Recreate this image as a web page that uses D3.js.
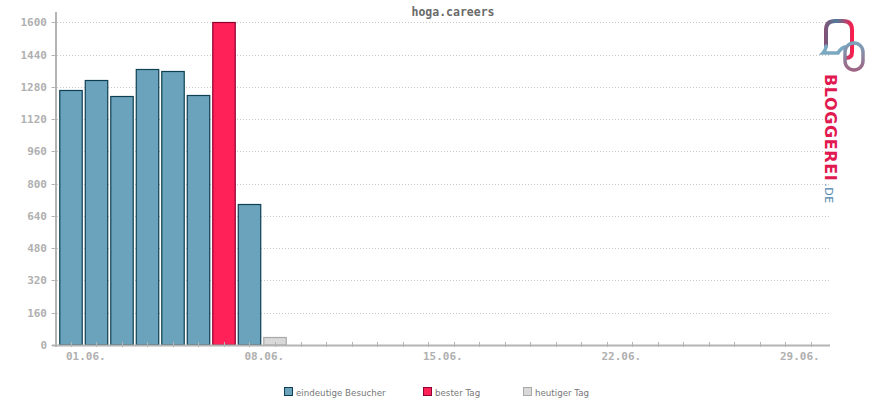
<!DOCTYPE html>
<html><head><meta charset="utf-8">
<script src="https://cdn.jsdelivr.net/npm/d3@7"></script>
<style>html,body{margin:0;padding:0;background:#fff;}svg{display:block;}</style>
</head><body>
<script>
const title = "hoga.careers";
const days = d3.range(1, 31).map(d => String(d).padStart(2, "0") + ".06.");
const visitors = [1263, 1316, 1237, 1370, 1360, 1241, 1600, 697, 38];
const kinds = ["v","v","v","v","v","v","best","v","today"];
const yTicks = [0,160,320,480,640,800,960,1120,1280,1440,1600];
const xLabels = ["01.06.","08.06.","15.06.","22.06.","29.06."];
const legendNames = ["eindeutige Besucher","bester Tag","heutiger Tag"];
const legendKinds = ["v","best","today"];

const fills = {v:"#6aa3bb", best:"#ff2157", today:"#d9d9d9"};
const strokes = {v:"#0f3f52", best:"#8f0030", today:"#a9a9a9"};

const W = 870, H = 400;
const svg = d3.select("body").append("svg").attr("width", W).attr("height", H);
const mono = "'DejaVu Sans Mono', monospace";

const x = d3.scaleBand().domain(days).range([58.25, 823.25]).paddingInner(0.08).paddingOuter(0.04);
const y = d3.scaleLinear().domain([0, 1600]).range([345, 22.3]);

// grid
svg.append("g").selectAll("line").data(yTicks.filter(d => d > 0)).join("line")
  .attr("x1", 57).attr("x2", 829).attr("y1", d => Math.round(y(d)) + 0.5).attr("y2", d => Math.round(y(d)) + 0.5)
  .attr("stroke", "#c8c8c8").attr("stroke-width", 1).attr("stroke-dasharray", "1,2");

// bars
svg.append("g").selectAll("rect").data(visitors).join("rect")
  .attr("x", (d, i) => x(days[i]) + 0.5)
  .attr("width", x.bandwidth() - 1)
  .attr("y", d => Math.round(y(d)) + 0.5)
  .attr("height", d => 345 - Math.round(y(d)) - 0.5)
  .attr("fill", (d, i) => fills[kinds[i]])
  .attr("stroke", (d, i) => strokes[kinds[i]])
  .attr("stroke-width", 1.2);

// y axis
const yAxis = svg.append("g");
yAxis.append("line").attr("x1", 56).attr("x2", 56).attr("y1", 12).attr("y2", 347)
  .attr("stroke", "#b4b4b4").attr("stroke-width", 2);
yAxis.selectAll("line.t").data(yTicks).join("line").attr("class", "t")
  .attr("x1", 51.5).attr("x2", 56).attr("y1", d => Math.round(y(d)) + 0.5).attr("y2", d => Math.round(y(d)) + 0.5)
  .attr("stroke", "#b4b4b4").attr("stroke-width", 1);
yAxis.selectAll("text").data(yTicks).join("text")
  .attr("x", 47).attr("y", d => y(d) + 4)
  .attr("text-anchor", "end").attr("font-family", mono).attr("font-size", 11)
  .attr("font-weight", "bold").attr("fill", "#b0b0b0").text(d => d);

// x axis
const xAxis = svg.append("g");
xAxis.append("line").attr("x1", 52).attr("x2", 830).attr("y1", 345.5).attr("y2", 345.5)
  .attr("stroke", "#b4b4b4").attr("stroke-width", 2);
xAxis.selectAll("line.t").data(days).join("line").attr("class", "t")
  .attr("x1", d => Math.round(x(d) + x.bandwidth() / 2) + 0.5)
  .attr("x2", d => Math.round(x(d) + x.bandwidth() / 2) + 0.5)
  .attr("y1", 342).attr("y2", 347)
  .attr("stroke", "#b4b4b4").attr("stroke-width", 1);
xAxis.selectAll("text").data(xLabels).join("text")
  .attr("x", d => x(d) + x.bandwidth() / 2 - 5).attr("y", 360)
  .attr("font-family", mono).attr("font-size", 11).attr("font-weight", "bold")
  .attr("fill", "#b0b0b0").text(d => d);

// title
svg.append("text").attr("x", 453).attr("y", 16).attr("text-anchor", "middle")
  .attr("font-family", mono).attr("font-size", 11.5).attr("font-weight", "bold")
  .attr("fill", "#6a6a6a").text(title);

// legend
const legX = [284, 423, 523];
const leg = svg.append("g").selectAll("g").data(legendNames).join("g")
  .attr("transform", (d, i) => `translate(${legX[i]},387)`);
leg.append("rect").attr("x", 0.5).attr("y", 0.5).attr("width", 8).attr("height", 8)
  .attr("fill", (d, i) => fills[legendKinds[i]]).attr("stroke", (d, i) => strokes[legendKinds[i]]);
leg.append("text").attr("x", 12).attr("y", 8.5).attr("font-family", "'DejaVu Sans', sans-serif")
  .attr("font-size", 8.7).attr("fill", "#777").text(d => d);

// logo
const defs = svg.append("defs");
const g1 = defs.append("linearGradient").attr("id", "lg").attr("gradientUnits", "userSpaceOnUse")
  .attr("x1", 0).attr("y1", 74).attr("x2", 0).attr("y2", 190);
g1.append("stop").attr("offset", 0).attr("stop-color", "#e01a4f");
g1.append("stop").attr("offset", 0.5).attr("stop-color", "#8c4468");
g1.append("stop").attr("offset", 1).attr("stop-color", "#3f6a8c");
const g2 = defs.append("linearGradient").attr("id", "lg2").attr("gradientUnits", "userSpaceOnUse")
  .attr("x1", 823).attr("y1", 0).attr("x2", 853).attr("y2", 0);
g2.append("stop").attr("offset", 0).attr("stop-color", "#8a4a70");
g2.append("stop").attr("offset", 0.45).attr("stop-color", "#4f7c9a");
g2.append("stop").attr("offset", 1).attr("stop-color", "#ff1a4a");
const g3 = defs.append("linearGradient").attr("id", "lg3").attr("gradientUnits", "userSpaceOnUse")
  .attr("x1", 0).attr("y1", 42).attr("x2", 0).attr("y2", 72);
g3.append("stop").attr("offset", 0).attr("stop-color", "#7aa4bc");
g3.append("stop").attr("offset", 1).attr("stop-color", "#a06080");

const logo = svg.append("g");
logo.append("path")
  .attr("d", "M826,46 L826,30 Q826,21 835,21 L843,21 Q852,21 852,30 L852,52 Q852,58 846,58")
  .attr("fill", "none").attr("stroke", "url(#lg2)").attr("stroke-width", 4).attr("stroke-linecap", "round");
logo.append("path")
  .attr("d", "M826,46 Q826,50 823,53 L838,53 Q841,48 845,47")
  .attr("fill", "none").attr("stroke", "#7aa8c0").attr("stroke-width", 3.5).attr("stroke-linecap", "round");
logo.append("rect").attr("x", 845).attr("y", 43).attr("width", 18).attr("height", 27).attr("rx", 9)
  .attr("fill", "none").attr("stroke", "url(#lg3)").attr("stroke-width", 3.5);

const lt = logo.append("text").attr("transform", "translate(825,74) rotate(90)")
  .attr("font-family", "'DejaVu Sans', sans-serif").attr("font-weight", "bold");
lt.append("tspan").attr("font-size", 16).attr("letter-spacing", 0.6).attr("fill", "url(#lg)").text("BLOGGEREI");
lt.append("tspan").attr("font-size", 11).attr("font-weight", "normal").attr("letter-spacing", 0.5).attr("dx", 2).attr("fill", "#4f86b0").text(".DE");
</script>
</body></html>
